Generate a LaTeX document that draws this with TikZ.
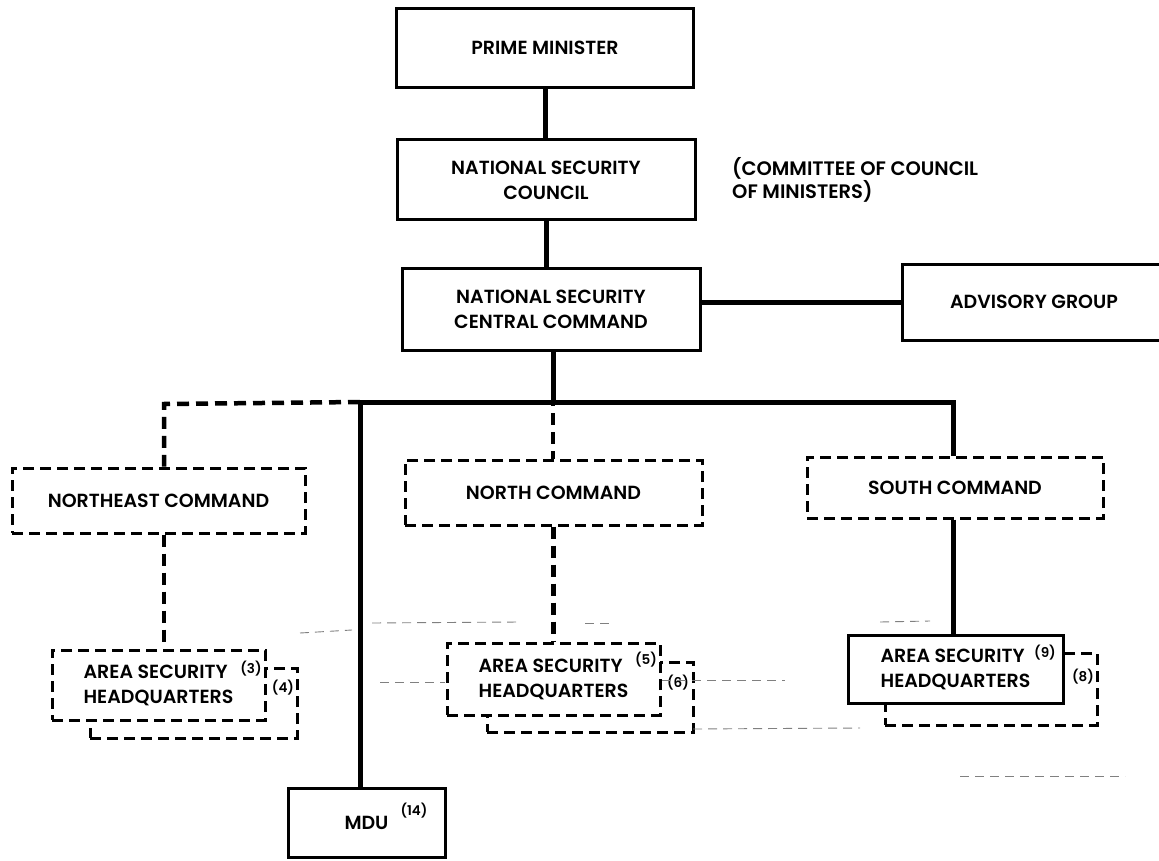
\documentclass[tikz,border=0pt]{standalone}
\usepackage{fontspec}
\setmainfont{Poppins}[UprightFont=* SemiBold, BoldFont=* Bold]
\begin{document}
\begin{tikzpicture}[x=1pt,y=-1pt,
  lbl/.style={font=\fontsize{19}{25}\selectfont},
  box/.style={draw, line width=3pt, fill=white, inner sep=0pt, align=center,
              lbl},
  dbox/.style={box, dash pattern=on 11pt off 6pt},
  link/.style={line width=5pt},
  dlink/.style={line width=4.5pt, dash pattern=on 12pt off 7pt},
  sup/.style={inner sep=0pt, font=\fontsize{13.5}{14}\selectfont},
  faint/.style={line width=0.9pt, black!50, dash pattern=on 9pt off 6pt},
]
\useasboundingbox (0,0) rectangle (1159,861);

% upper chain of command
\node[box, minimum width=297pt, minimum height=79pt] (pm) at (545,48) {PRIME MINISTER};
\node[box, minimum width=298pt, minimum height=80pt] (nsc) at (546,180)
  {NATIONAL SECURITY\\COUNCIL};
\node[lbl, anchor=north west, align=left, inner sep=0pt, font=\fontsize{19.5}{21}\selectfont]
  (cmt) at (732,157) {(COMMITTEE OF COUNCIL\\OF MINISTERS)};
\node[box, minimum width=298pt, minimum height=82pt] (nscc) at (551,309)
  {NATIONAL SECURITY\\CENTRAL COMMAND};
\node[box, minimum width=264pt, minimum height=76pt] (adv) at (1034,302) {ADVISORY GROUP};

% regional commands
\node[dbox, minimum width=293pt, minimum height=65pt] (ne) at (158.5,500.5) {NORTHEAST COMMAND};
\node[dbox, minimum width=297pt, minimum height=65pt] (north) at (553.5,492.5) {NORTH COMMAND};
\node[dbox, minimum width=296pt, minimum height=61pt] (south) at (955,487.5) {SOUTH COMMAND};

% junctions of the main bar
\coordinate (bj) at (553,402);
\coordinate (barL) at (360,402);
\coordinate (barR) at (953,402);
\coordinate (dL) at (164,404);

% area security headquarters (rear boxes first)
\node[dbox, minimum width=207pt, minimum height=70pt] (hq4) at (193.5,703) {};
\node[dbox, minimum width=213pt, minimum height=70pt, align=left] (hq3) at (158.5,685)
  {AREA SECURITY\\HEADQUARTERS};
\node[dbox, minimum width=206pt, minimum height=70pt] (hq6) at (590,697) {};
\node[dbox, minimum width=213pt, minimum height=72pt, align=left] (hq5) at (553.5,679)
  {AREA SECURITY\\HEADQUARTERS};
\node[dbox, minimum width=212pt, minimum height=72pt] (hq8) at (991,689) {};
\node[box, minimum width=215pt, minimum height=68pt, align=left] (hq9) at (955.5,669)
  {AREA SECURITY\\HEADQUARTERS};

\node[box, minimum width=157pt, minimum height=69pt] (mdu) at (366.5,822.5) {MDU};

% reference numbers
\node[sup] (r3) at (251,669) {(3)};
\node[sup] (r4) at (283,688) {(4)};
\node[sup] (r5) at (646,660) {(5)};
\node[sup] (r6) at (678,683) {(6)};
\node[sup] (r9) at (1045,653) {(9)};
\node[sup] (r8) at (1083,677) {(8)};
\node[sup] (r14) at (414,811) {(14)};

% connectors
\draw[link] (pm.south) -- (pm.south |- nsc.north);
\draw[link] (nsc.south) -- (nsc.south |- nscc.north);
\draw[link] (nscc.east |- adv.west) -- (adv.west);
\draw[link] (nscc.south -| bj) -- (bj);
\draw[link] (barL) -- (barR) -- (barR |- south.north);
\draw[link] (barL) -- (barL |- mdu.north);
\draw[dlink] (barL) -- (dL) -- (dL |- ne.north);
\draw[dlink] ([yshift=8pt]bj) -- (bj |- north.north);
\draw[dlink] (dL |- ne.south) -- (dL |- hq3.north);
\draw[dlink] (north.south) -- (north.south |- hq5.north);
\draw[link] (south.south -| barR) -- (barR |- hq9.north);

% faint traces across the lower part of the sheet
\draw[faint] (300,633) -- (352,630);
\draw[faint] (372,623) -- (520,622);
\draw[faint] (585,623) -- (612,623);
\draw[faint] (380,682) -- (445,682);
\draw[faint] (662,680) -- (785,680);
\draw[faint] (693,729) -- (860,728);
\draw[faint] (880,622) -- (930,621);
\draw[faint] (960,776) -- (1125,776);
\end{tikzpicture}
\end{document}
